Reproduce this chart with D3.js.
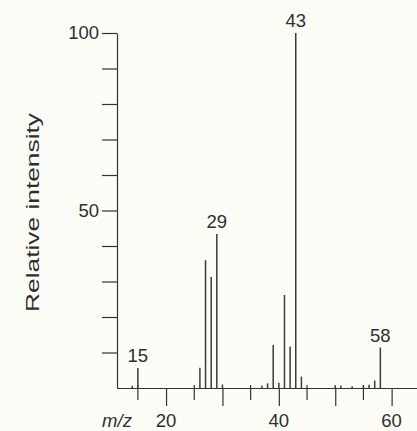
<!DOCTYPE html>
<html>
<head>
<meta charset="utf-8">
<script src="https://cdn.jsdelivr.net/npm/d3@7"></script>
<style>
  html, body { margin: 0; padding: 0; background: #fdfdf8; }
  svg { display: block; }
  text { font-family: "Liberation Sans", Arial, sans-serif; fill: #2e2e2e; }
</style>
</head>
<body>
<div id="chart"></div>
<script>
// mass spectrum peaks (m/z, relative intensity)
const mz        = [14, 15, 26, 27, 28, 29, 30, 37, 38, 39, 40, 41, 42, 43, 44, 50, 51, 53, 55, 56, 57, 58];
const intensity = [0.6, 5.6, 5.7, 36, 31.3, 43.4, 1, 0.7, 1.3, 12.1, 1.5, 26.2, 11.6, 100, 3.2, 0.8, 0.7, 0.5, 0.6, 0.9, 2.1, 11.4];
const labelledPeaks = [15, 29, 43, 58];

const yTicks = [10, 20, 30, 40, 50, 60, 70, 80, 90, 100];
const yTickLabels = [50, 100];
const xMajorTicks = [20, 30, 40, 50, 60];
const xMinorTicks = [15, 25, 35, 45, 55];
const xTickLabels = [20, 40, 60];

const W = 417, H = 431;
const ink = '#333';

const svg = d3.select('#chart').append('svg')
    .attr('width', W)
    .attr('height', H);

svg.append('rect').attr('width', W).attr('height', H).attr('fill', '#fdfdf8');

// scales
const x = d3.scaleLinear().domain([11.3, 64.5]).range([117, 417]);
const y = d3.scaleLinear().domain([0, 100]).range([388, 33]);
const y0 = y(0);

// y axis
const yAxis = svg.append('g')
    .attr('transform', `translate(${x.range()[0]},0)`)
    .call(d3.axisLeft(y)
        .tickValues(yTicks)
        .tickSize(15)
        .tickSizeOuter(0)
        .tickPadding(3)
        .tickFormat(d => yTickLabels.includes(d) ? d : ''));
yAxis.select('.domain').attr('stroke', ink).attr('stroke-width', 1.2);
yAxis.selectAll('.tick line').attr('stroke', ink).attr('stroke-width', 1.2);
yAxis.selectAll('.tick text')
    .attr('fill', '#2e2e2e')
    .style('font-size', '18.5px')
    .style('font-family', '"Liberation Sans", Arial, sans-serif');

// x axis
const xAxis = svg.append('g')
    .attr('transform', `translate(0,${y0})`)
    .call(d3.axisBottom(x)
        .tickValues(xMajorTicks)
        .tickSize(18)
        .tickSizeOuter(0)
        .tickFormat(''));
xAxis.select('.domain').attr('stroke', ink).attr('stroke-width', 1.2);
xAxis.selectAll('.tick line').attr('stroke', ink).attr('stroke-width', 1.2);

// minor x ticks cross the axis line
svg.append('g')
    .selectAll('line')
    .data(xMinorTicks)
    .enter().append('line')
    .attr('x1', d => x(d))
    .attr('x2', d => x(d))
    .attr('y1', y0 - 3)
    .attr('y2', y0 + 12)
    .attr('stroke', ink)
    .attr('stroke-width', 1.2);

// x tick labels
svg.append('g')
    .selectAll('text')
    .data(xTickLabels)
    .enter().append('text')
    .attr('x', d => x(d))
    .attr('y', 427)
    .attr('text-anchor', 'middle')
    .style('font-size', '18.5px')
    .text(d => d);

svg.append('text')
    .attr('x', 117)
    .attr('y', 427)
    .attr('text-anchor', 'middle')
    .style('font-size', '18.5px')
    .style('font-style', 'italic')
    .text('m/z');

// y axis title
svg.append('text')
    .attr('transform', 'translate(39,212.5) rotate(-90)')
    .attr('text-anchor', 'middle')
    .attr('textLength', 199)
    .attr('lengthAdjust', 'spacingAndGlyphs')
    .style('font-size', '17.6px')
    .text('Relative intensity');

// peaks
const peaks = mz.map((m, i) => ({ m: m, v: intensity[i] }));

svg.append('g')
    .selectAll('line')
    .data(peaks)
    .enter().append('line')
    .attr('x1', d => x(d.m))
    .attr('x2', d => x(d.m))
    .attr('y1', y0)
    .attr('y2', d => y(d.v))
    .attr('stroke', '#3a3a3a')
    .attr('stroke-width', 1.5);

// peak labels
svg.append('g')
    .selectAll('text')
    .data(peaks.filter(d => labelledPeaks.includes(d.m)))
    .enter().append('text')
    .attr('x', d => x(d.m))
    .attr('y', d => y(d.v) - 6)
    .attr('text-anchor', 'middle')
    .style('font-size', '18.5px')
    .text(d => d.m);
</script>
</body>
</html>
